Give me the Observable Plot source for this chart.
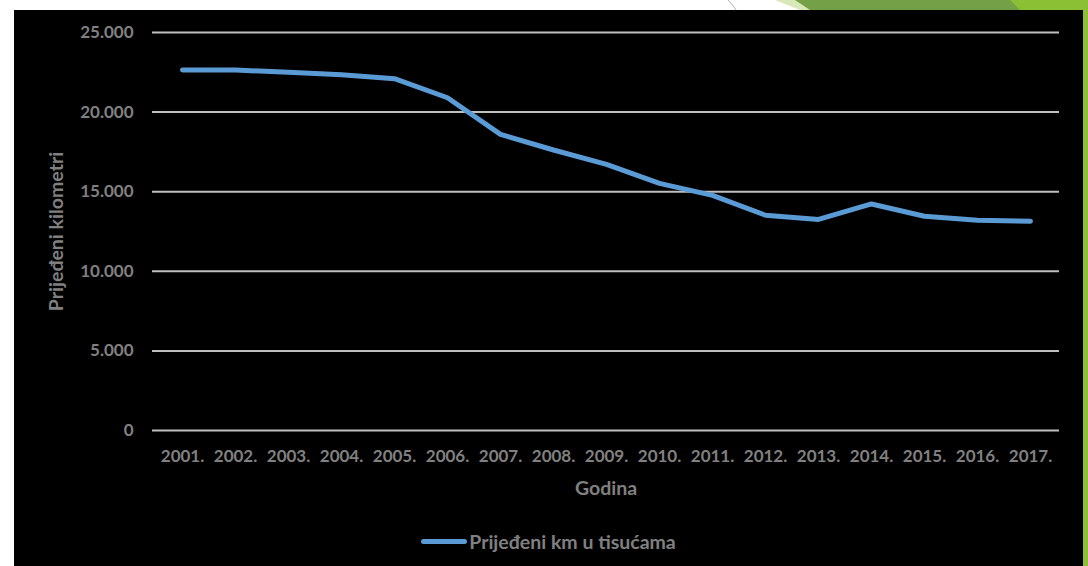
<!DOCTYPE html>
<html>
<head>
<meta charset="utf-8">
<script src="https://cdn.jsdelivr.net/npm/d3@7"></script>
<script src="https://cdn.jsdelivr.net/npm/@observablehq/plot@0.6"></script>
<style>
  html, body { margin: 0; padding: 0; background: #ffffff; width: 1088px; height: 566px; overflow: hidden; font-family: Lato, "Open Sans", sans-serif; }
  #deco { position: absolute; left: 0; top: 0; }
  #panel { position: absolute; left: 14px; top: 10px; width: 1069px; height: 556px; background: #000; }
  #chart { position: absolute; left: 0; top: 0; }
  #legend { position: absolute; left: 0; top: 517px; width: 1069px; height: 28px; display: flex; justify-content: center; align-items: center; color: #808080; font-weight: 700; font-size: 19.5px; }
  #legend .sw { width: 46px; height: 5px; border-radius: 2.5px; background: #5b9bd5; margin-right: 2px; }
</style>
</head>
<body>
<svg id="deco" width="1088" height="566">
  <path d="M728,0 Q734,6 736,10" stroke="#b0b0b0" stroke-width="1" fill="none"/>
  <polygon points="775,0 1088,0 1088,10 800,10" fill="#d9e8b8"/>
  <polygon points="795,0 1088,0 1088,10 810,10" fill="#74a048"/>
  <polygon points="1010,0 1088,0 1088,566 1083,566 1083,10 1020,10" fill="#8cc034"/>
</svg>
<div id="panel">
  <div id="chart"></div>
  <div id="legend"><span class="sw"></span><span>Prijeđeni km u tisućama</span></div>
</div>
<script>
const years = ["2001.","2002.","2003.","2004.","2005.","2006.","2007.","2008.","2009.","2010.","2011.","2012.","2013.","2014.","2015.","2016.","2017."];
const km = [22650, 22640, 22500, 22340, 22100, 20900, 18600, 17620, 16720, 15520, 14770, 13520, 13260, 14230, 13460, 13200, 13140];
const yTicks = [0, 5000, 10000, 15000, 20000, 25000];

const data = years.map((y, i) => ({year: y, value: km[i]}));
const fmt = d3.formatLocale({decimal: ",", thousands: ".", grouping: [3]}).format(",");

const chart = Plot.plot({
  width: 1069,
  height: 500,
  marginLeft: 138,
  marginRight: 24,
  marginTop: 22,
  marginBottom: 80,
  style: {background: "#000", color: "#808080", fontFamily: "Lato, 'Open Sans', sans-serif", fontSize: "17px", fontWeight: "700"},
  x: {type: "point", domain: years, padding: 0.5},
  y: {domain: [0, 25000]},
  marks: [
    Plot.ruleY(yTicks, {stroke: "#bfbfbf", strokeWidth: 2}),
    Plot.axisY(yTicks, {tickSize: 0, tickPadding: 19, tickFormat: d => d === 0 ? "0" : fmt(d), fontSize: 17,
      label: "Prijeđeni kilometri", labelAnchor: "center", labelArrow: "none", labelOffset: 103}),
    Plot.axisX({tickSize: 0, tickPadding: 19, fontSize: 17, label: "Godina", labelAnchor: "center", labelArrow: "none", labelOffset: 64}),
    Plot.line(data, {x: "year", y: "value", stroke: "#5b9bd5", strokeWidth: 5, strokeLinecap: "round", strokeLinejoin: "round"})
  ]
});
chart.querySelectorAll("text").forEach(t => {
  const s = t.textContent;
  if (s === "Godina" || s === "Prijeđeni kilometri") t.setAttribute("font-size", "19.5");
});
document.getElementById("chart").appendChild(chart);
</script>
</body>
</html>
